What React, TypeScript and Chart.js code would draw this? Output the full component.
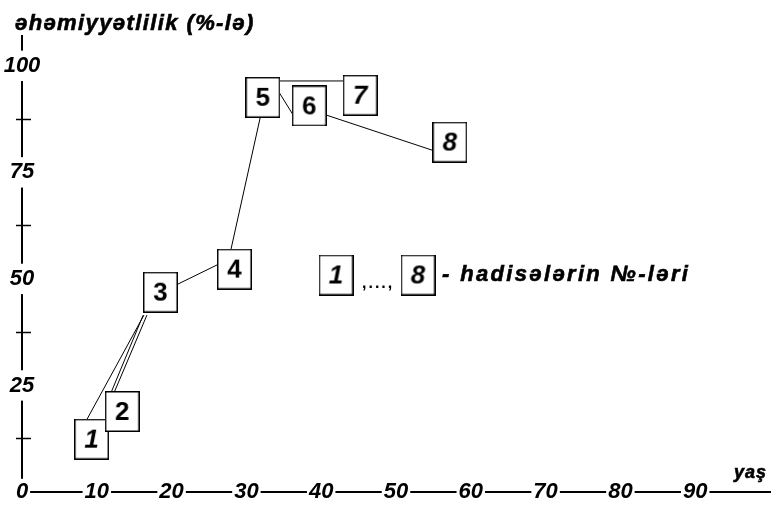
import React, { useEffect, useRef } from 'react';
import { Chart, registerables } from 'chart.js';

Chart.register(...registerables);

// ---- data ----
const eventNumbers = ['1', '2', '3', '4', '5', '6', '7', '8'];
const eventAges = [9.3, 13.4, 18.5, 28.4, 32.2, 38.4, 45.2, 57.2];
const eventImportance = [12.4, 18.9, 46.9, 52.3, 92.6, 90.6, 93.1, 82.1];
const italicNumbers = ['1', '7', '8'];

// connecting strokes between the boxes (start / end, in age & % units)
const linkFromAge = [8.7, 11.5, 11.9, 20.45, 27.8, 34.1, 34.1, 40.25];
const linkFromVal = [17.1, 21.6, 21.6, 48.45, 55.85, 94.55, 96.45, 88.7];
const linkToAge = [16.3, 16.2, 16.7, 26.45, 31.95, 36.5, 43.3, 55.2];
const linkToVal = [41.5, 41.5, 41.5, 53.6, 88.7, 87.75, 96.45, 80.0];

const xTickValues = [0, 10, 20, 30, 40, 50, 60, 70, 80, 90];
const yTickValues = [12.5, 25, 37.5, 50, 62.5, 75, 87.5, 100];
const yTitle = 'əhəmiyyətlilik (%-lə)';
const xTitle = 'yaş';
const legendSeparator = ',...,';
const legendText = '- hadisələrin №-ləri';

const SANS = '"Liberation Sans", Arial, sans-serif';
const BOX_W = 35;
const BOX_H = 41;

const isMinor = (v: number) => v % 25 !== 0;

function fontAvailable(name: string): boolean {
  const g = document.createElement('canvas').getContext('2d')!;
  g.font = 'bold 40px monospace';
  const a = g.measureText('1004Wmi58').width;
  g.font = `bold 40px "${name}", monospace`;
  const b = g.measureText('1004Wmi58').width;
  return Math.abs(a - b) > 0.5;
}

function makeBox(label: string, family: string, size: number): HTMLCanvasElement {
  const c = document.createElement('canvas');
  c.width = BOX_W;
  c.height = BOX_H;
  const g = c.getContext('2d')!;
  g.fillStyle = '#fff';
  g.fillRect(0, 0, BOX_W, BOX_H);
  g.strokeStyle = '#000';
  g.lineWidth = 1.5;
  g.strokeRect(0.75, 0.75, BOX_W - 1.5, BOX_H - 1.5);
  g.fillStyle = '#000';
  g.font = `${italicNumbers.includes(label) ? 'italic ' : ''}bold ${size}px ${family}`;
  g.textAlign = 'center';
  g.textBaseline = 'middle';
  g.fillText(label, BOX_W / 2, BOX_H / 2 + 1);
  return c;
}

export default function App() {
  const ref = useRef<HTMLCanvasElement>(null);

  useEffect(() => {
    const canvas = ref.current!;
    const narrow = fontAvailable('Liberation Sans Narrow');
    const digitFamily = narrow ? `"Liberation Sans Narrow", ${SANS}` : SANS;
    const tickSize = narrow ? 25 : 22;
    const boxSize = narrow ? 28 : 26;
    const TICK_FONT = { family: digitFamily, size: tickSize, style: 'italic' as const, weight: 'bold' as const };
    const boxes = eventNumbers.map((n) => makeBox(n, digitFamily, boxSize));

    // measure widest y label to centre labels on the axis line
    const m = document.createElement('canvas').getContext('2d')!;
    m.font = `italic bold ${tickSize}px ${digitFamily}`;
    const widest = Math.max(...yTickValues.filter((v) => !isMinor(v)).map((v) => m.measureText(String(v)).width));

    const annotations = {
      id: 'annotations',
      afterDraw(chart: any) {
        const { ctx } = chart;
        ctx.save();
        ctx.fillStyle = '#000';
        ctx.strokeStyle = '#000';
        ctx.lineWidth = 0.6;
        ctx.textAlign = 'left';
        ctx.textBaseline = 'alphabetic';
        ctx.font = `italic bold 22px ${SANS}`;
        (ctx as any).letterSpacing = '1.4px';
        ctx.fillText(yTitle, 15, 30);
        ctx.strokeText(yTitle, 15, 30);
        ctx.font = `italic bold 18px ${SANS}`;
        (ctx as any).letterSpacing = '1px';
        ctx.fillText(xTitle, 734, 478);
        ctx.strokeText(xTitle, 734, 478);
        // legend
        ctx.drawImage(boxes[0], 336 - BOX_W / 2, 275 - BOX_H / 2);
        ctx.drawImage(boxes[7], 418 - BOX_W / 2, 275 - BOX_H / 2);
        ctx.font = `bold 16px ${SANS}`;
        (ctx as any).letterSpacing = '2px';
        ctx.fillText(legendSeparator, 362, 288);
        ctx.font = `italic bold 22px ${SANS}`;
        (ctx as any).letterSpacing = '2.35px';
        ctx.fillText(legendText, 442, 281);
        ctx.strokeText(legendText, 442, 281);
        ctx.restore();
      },
    };

    const linkDatasets = linkFromAge.map((a, i) => ({
      type: 'line' as const,
      data: [
        { x: a, y: linkFromVal[i] },
        { x: linkToAge[i], y: linkToVal[i] },
      ],
      borderColor: '#000',
      borderWidth: 1,
      pointRadius: 0,
      showLine: true,
      fill: false,
      order: 1,
    }));

    const minorTickColor = (c: any) => (c.tick && isMinor(c.tick.value) ? '#000' : 'rgba(0,0,0,0)');

    const chart = new Chart(canvas, {
      type: 'scatter',
      data: {
        datasets: [
          {
            data: eventAges.map((a, i) => ({ x: a, y: eventImportance[i] })),
            pointStyle: boxes as any,
            pointRadius: 5,
            showLine: false,
            order: 0,
          } as any,
          ...linkDatasets,
        ],
      },
      options: {
        animation: false,
        responsive: true,
        maintainAspectRatio: false,
        events: [],
        layout: { padding: { left: 5, top: 36, right: 14, bottom: 0 }, autoPadding: false } as any,
        plugins: { legend: { display: false }, tooltip: { enabled: false }, title: { display: false } },
        scales: {
          x: {
            type: 'linear',
            position: 'bottom',
            min: 0,
            max: 100,
            afterBuildTicks: (s: any) => {
              s.ticks = xTickValues.map((v) => ({ value: v }));
            },
            afterFit: (s: any) => {
              s.height = 13;
            },
            border: { display: true, color: '#000', width: 2 },
            grid: { display: false, drawTicks: false, drawOnChartArea: false },
            ticks: {
              z: 1,
              color: '#000',
              font: TICK_FONT,
              mirror: true,
              crossAlign: 'center',
              padding: 0,
              maxRotation: 0,
              autoSkip: false,
              showLabelBackdrop: true,
              backdropColor: '#fff',
              backdropPadding: { top: 0, bottom: 0, left: 2, right: 2 },
              callback: (v: any) => String(v),
            },
          } as any,
          y: {
            type: 'linear',
            position: 'left',
            weight: 1,
            min: 0,
            max: 107,
            afterBuildTicks: (s: any) => {
              s.ticks = yTickValues.map((v) => ({ value: v }));
            },
            afterFit: (s: any) => {
              s.width = 17;
            },
            border: { display: true, color: '#000', width: 2 },
            grid: {
              display: true,
              drawOnChartArea: false,
              drawTicks: true,
              tickLength: 6,
              tickWidth: 1.5,
              color: minorTickColor,
            },
            ticks: {
              z: 1,
              color: '#000',
              font: TICK_FONT,
              mirror: true,
              crossAlign: 'center',
              padding: -widest / 2,
              autoSkip: false,
              showLabelBackdrop: (c: any) => !!c.tick && !isMinor(c.tick.value),
              backdropColor: '#fff',
              backdropPadding: { top: 2, bottom: 2, left: 2, right: 2 },
              callback: (v: any) => (isMinor(Number(v)) ? '' : String(v)),
            },
          } as any,
          yIn: {
            type: 'linear',
            position: 'left',
            weight: 0,
            min: 0,
            max: 107,
            afterBuildTicks: (s: any) => {
              s.ticks = yTickValues.map((v) => ({ value: v }));
            },
            afterFit: (s: any) => {
              s.width = 0;
            },
            border: { display: false },
            grid: {
              display: true,
              drawOnChartArea: false,
              drawTicks: true,
              tickLength: -9,
              tickWidth: 1.5,
              color: minorTickColor,
            },
            ticks: { display: false },
          } as any,
        },
      },
      plugins: [annotations],
    } as any);

    return () => chart.destroy();
  }, []);

  return (
    <div style={{ position: 'absolute', left: 0, top: 0, width: 784, height: 505, background: '#fff' }}>
      <canvas ref={ref} />
    </div>
  );
}
